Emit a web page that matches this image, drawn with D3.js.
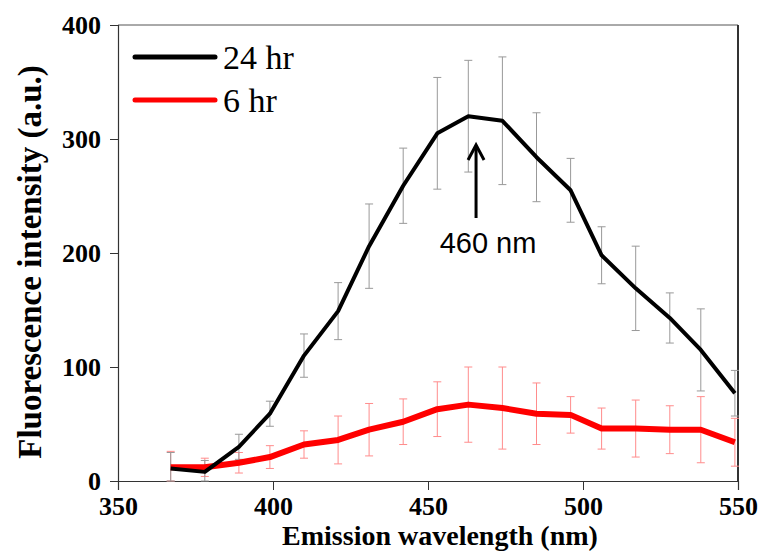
<!DOCTYPE html>
<html>
<head>
<meta charset="utf-8">
<script src="https://cdn.jsdelivr.net/npm/d3@7"></script>
<style>
  body { margin: 0; background: #fff; }
  svg { display: block; }
</style>
</head>
<body>
<div id="chart"></div>
<script>
// data
const wavelengths = [367, 378, 389, 399, 410, 421, 431, 442, 453, 463, 474, 485, 496, 506, 517, 528, 538, 549];
const hr24    = [11, 8, 30, 59, 110, 149, 206, 259, 305, 320, 316, 284, 255, 198, 169, 143, 115, 77];
const hr24Err = [14, 10, 11, 11, 19, 25, 37, 33, 49, 49, 56, 39, 28, 25, 37, 22, 36, 20];
const hr6     = [12, 12, 16, 21, 32, 36, 45, 52, 63, 67, 64, 59, 58, 46, 46, 45, 45, 34];
const hr6Err  = [14, 8, 9, 10, 12, 21, 23, 20, 24, 33, 36, 27, 16, 18, 25, 21, 29, 21];
const xTicks = [350, 400, 450, 500, 550];
const yTicks = [0, 100, 200, 300, 400];
const seriesNames = ["24 hr", "6 hr"];

const dimensions = {
    width: 763,
    height: 551,
    margin: { top: 25, right: 25, bottom: 70, left: 118 }
}
dimensions.ctrWidth = dimensions.width - dimensions.margin.left - dimensions.margin.right
dimensions.ctrHeight = dimensions.height - dimensions.margin.top - dimensions.margin.bottom

const svg = d3.select('#chart')
    .append('svg')
    .attr('width', dimensions.width)
    .attr('height', dimensions.height)

const ctr = svg.append('g')
    .attr('transform', `translate(${dimensions.margin.left}, ${dimensions.margin.top})`)

const xScale = d3.scaleLinear().domain([350, 550]).range([0, dimensions.ctrWidth])
const yScale = d3.scaleLinear().domain([0, 400]).range([dimensions.ctrHeight, 0])

const serif = '"Liberation Serif", "Times New Roman", serif'

// frame (top + right)
ctr.append('line')
    .attr('x1', 0).attr('x2', dimensions.ctrWidth)
    .attr('y1', 0).attr('y2', 0)
    .attr('stroke', '#555').attr('stroke-width', 1)
ctr.append('line')
    .attr('x1', dimensions.ctrWidth).attr('x2', dimensions.ctrWidth)
    .attr('y1', 0).attr('y2', dimensions.ctrHeight)
    .attr('stroke', '#333').attr('stroke-width', 2)

// axes
const xAxis = d3.axisBottom(xScale).tickValues(xTicks).tickSize(9).tickPadding(7)
const yAxis = d3.axisLeft(yScale).tickValues(yTicks).tickSize(8).tickPadding(9)

const xG = ctr.append('g')
    .attr('transform', `translate(0, ${dimensions.ctrHeight})`)
    .call(xAxis)
const yG = ctr.append('g').call(yAxis)

;[xG, yG].forEach(g => {
    g.select('.domain').attr('stroke', '#333').attr('stroke-width', 1.2)
    g.selectAll('.tick line').attr('stroke', '#333')
    g.selectAll('text')
        .attr('fill', '#000')
        .style('font-family', serif)
        .style('font-weight', 'bold')
        .style('font-size', '26px')
})
yG.selectAll('text').attr('dy', '0.34em')

// error bars
function drawErrors(values, errs, color) {
    const g = ctr.append('g')
    const cap = 4
    wavelengths.forEach((w, i) => {
        const x = xScale(w)
        const lo = yScale(Math.max(0, values[i] - errs[i]))
        const hi = yScale(values[i] + errs[i])
        g.append('line').attr('x1', x).attr('x2', x).attr('y1', lo).attr('y2', hi)
            .attr('stroke', color).attr('stroke-width', 1)
        g.append('line').attr('x1', x - cap).attr('x2', x + cap).attr('y1', hi).attr('y2', hi)
            .attr('stroke', color).attr('stroke-width', 1)
        g.append('line').attr('x1', x - cap).attr('x2', x + cap).attr('y1', lo).attr('y2', lo)
            .attr('stroke', color).attr('stroke-width', 1)
    })
}
drawErrors(hr6, hr6Err, '#ff8c8c')
drawErrors(hr24, hr24Err, '#999')

const line = d3.line()
    .x((d, i) => xScale(wavelengths[i]))
    .y(d => yScale(d))

ctr.append('path')
    .datum(hr6)
    .attr('d', line)
    .attr('fill', 'none')
    .attr('stroke', '#ff0000')
    .attr('stroke-width', 6)
    .attr('stroke-linejoin', 'round')

ctr.append('path')
    .datum(hr24)
    .attr('d', line)
    .attr('fill', 'none')
    .attr('stroke', '#000')
    .attr('stroke-width', 4)
    .attr('stroke-linejoin', 'round')

// legend
const legend = ctr.append('g').attr('transform', 'translate(17, 32)')
seriesNames.forEach((name, i) => {
    const row = legend.append('g').attr('transform', `translate(0, ${i * 43})`)
    row.append('line')
        .attr('x1', 0).attr('x2', 80)
        .attr('stroke', i === 0 ? '#000' : '#ff0000')
        .attr('stroke-width', 5)
        .attr('stroke-linecap', 'round')
    row.append('text')
        .attr('x', 88).attr('y', 12)
        .style('font-family', serif)
        .style('font-size', '34px')
        .text(name)
})

// peak annotation
const peakX = xScale(465.5)
const arrowTop = 120
const arrowBottom = 193
ctr.append('line')
    .attr('x1', peakX).attr('x2', peakX)
    .attr('y1', arrowBottom).attr('y2', arrowTop + 1)
    .attr('stroke', '#000').attr('stroke-width', 3)
ctr.append('path')
    .attr('d', `M${peakX - 8},${arrowTop + 15} L${peakX},${arrowTop} L${peakX + 8},${arrowTop + 15}`)
    .attr('fill', 'none').attr('stroke', '#000').attr('stroke-width', 3)
ctr.append('text')
    .attr('x', peakX + 12).attr('y', 228)
    .attr('text-anchor', 'middle')
    .style('font-family', '"Liberation Sans", Arial, sans-serif')
    .style('font-size', '29px')
    .text('460 nm')

// axis titles
svg.append('text')
    .attr('x', dimensions.margin.left + dimensions.ctrWidth / 2 + 12)
    .attr('y', 545)
    .attr('text-anchor', 'middle')
    .style('font-family', serif)
    .style('font-weight', 'bold')
    .style('font-size', '28px')
    .text('Emission wavelength (nm)')

svg.append('text')
    .attr('transform', 'translate(41, 262) rotate(-90)')
    .attr('text-anchor', 'middle')
    .style('font-family', serif)
    .style('font-weight', 'bold')
    .style('font-size', '33px')
    .text('Fluorescence intensity (a.u.)')
</script>
</body>
</html>
